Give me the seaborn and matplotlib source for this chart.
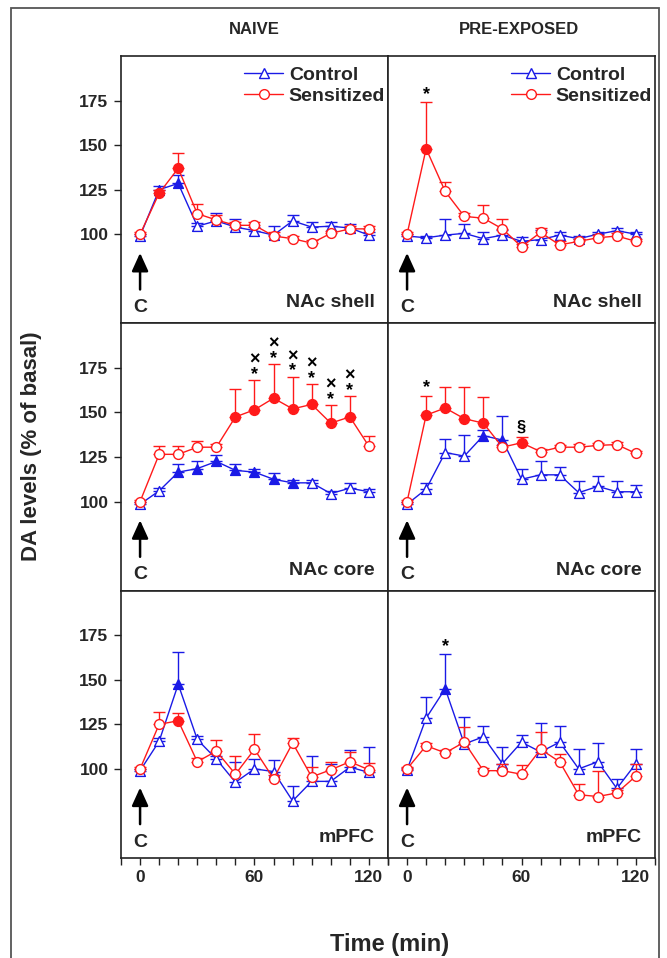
import matplotlib
matplotlib.use("Agg")
import matplotlib.pyplot as plt
from matplotlib.lines import Line2D
from matplotlib.patches import Rectangle
from matplotlib.ticker import MultipleLocator
import pandas as pd
import seaborn as sns

# --- данные, % от базального уровня ---
time_min = [0, 10, 20, 30, 40, 50, 60, 70, 80, 90, 100, 110, 120]

# NAc shell, NAIVE
shell_naive_ctrl = [99, 125, 128.5, 104.5, 107.5, 104, 102, 99.5, 107.5, 104, 104.5, 103.5, 99.5]
shell_naive_ctrl_sem = [1, 2, 4.5, 2, 4.5, 4.5, 2, 5, 3.5, 3, 2.5, 2, 1.5]
shell_naive_ctrl_sig = [10, 20]
shell_naive_sens = [100, 123, 137, 111.5, 108, 105, 105, 99, 97.5, 95, 100.5, 103, 103]
shell_naive_sens_sem = [1, 2, 8.5, 5.5, 3, 2, 2, 2, 1.5, 1.5, 1.5, 1.5, 1.5]
shell_naive_sens_sig = [10, 20]

# NAc shell, PRE-EXPOSED
shell_pre_ctrl = [99, 98, 99.5, 100.5, 97.5, 99.5, 96, 97, 99.5, 97.5, 100, 102, 100]
shell_pre_ctrl_sem = [1, 1, 9, 5, 4, 3, 2.5, 5.5, 2, 1.5, 1.5, 1.5, 1.5]
shell_pre_ctrl_sig = []
shell_pre_sens = [100, 148, 124, 110, 109, 103, 93, 101, 94, 96, 98, 99, 96]
shell_pre_sens_sem = [1, 26, 5.5, 2, 7.5, 5.5, 1.5, 2.5, 2, 1.5, 1.5, 1.5, 1.5]
shell_pre_sens_sig = [10]

# NAc core, NAIVE
core_naive_ctrl = [98.5, 106, 116.5, 118.5, 122.5, 117.5, 116.5, 112.5, 110.5, 110.5, 104.5, 107.5, 105.5]
core_naive_ctrl_sem = [1, 1.5, 4.5, 4, 3.5, 3.5, 2, 3.5, 1.5, 1.5, 1.5, 3, 1.5]
core_naive_ctrl_sig = [20, 30, 40, 50, 60, 70, 80]
core_naive_sens = [100, 126.5, 126.5, 130.5, 130.5, 147.5, 151.5, 158, 152, 154.5, 144, 147.5, 131]
core_naive_sens_sem = [1, 4.5, 4.5, 3.5, 2, 15.5, 16.5, 19, 18, 11.5, 10, 11.5, 6]
core_naive_sens_sig = [50, 60, 70, 80, 90, 100, 110]

# NAc core, PRE-EXPOSED
core_pre_ctrl = [98.5, 107, 127.5, 125.5, 137, 134.5, 112.5, 115, 115, 105, 108.5, 105.5, 105.5]
core_pre_ctrl_sem = [1, 3.5, 7.5, 12, 3, 13.5, 5.5, 7.5, 4.5, 6.5, 6, 6, 4]
core_pre_ctrl_sig = [40, 50]
core_pre_sens = [100, 148.5, 152.5, 146.5, 144, 130.5, 133, 128, 130.5, 130.5, 131.5, 132, 127]
core_pre_sens_sem = [1, 11, 11.5, 18, 14.5, 1.5, 3.5, 1.5, 1.5, 2, 1.5, 1.5, 1.5]
core_pre_sens_sig = [10, 20, 30, 40, 60]

# mPFC, NAIVE
mpfc_naive_ctrl = [99, 115.5, 147.5, 116.5, 105.5, 92.5, 100, 98.5, 82, 93, 93, 101, 98]
mpfc_naive_ctrl_sem = [1, 2, 18, 2, 2, 11.5, 5.5, 6.5, 8.5, 14, 9.5, 9.5, 14.5]
mpfc_naive_ctrl_sig = [20]
mpfc_naive_sens = [100, 125, 127, 104, 110, 97, 111, 94.5, 114.5, 95.5, 99.5, 104, 99.5]
mpfc_naive_sens_sem = [1, 7, 4.5, 2, 6, 10.5, 8.5, 2, 3, 5.5, 4.5, 5.5, 4]
mpfc_naive_sens_sig = [20]

# mPFC, PRE-EXPOSED
mpfc_pre_ctrl = [99.5, 128.5, 145, 114, 118, 103, 115, 109.5, 115, 100, 104, 89, 103]
mpfc_pre_ctrl_sem = [1, 12, 19.5, 15, 6, 9.5, 4, 16.5, 9, 11, 10.5, 5.5, 8]
mpfc_pre_ctrl_sig = [20]
mpfc_pre_sens = [100, 113, 109, 115, 99, 99, 97, 111, 104, 85.5, 84.5, 86.5, 96]
mpfc_pre_sens_sem = [1, 1.5, 1.5, 8.5, 1.5, 4, 5, 9.5, 4.5, 6, 14.5, 1.5, 6.5]
mpfc_pre_sens_sig = []

# значки значимости: (время, символ)
shell_pre_marks = [(10, '*')]
core_naive_marks = [(60, '×\n*'), (70, '×\n*'), (80, '×\n*'), (90, '×\n*'),
                    (100, '×\n*'), (110, '×\n*')]
core_pre_marks = [(10, '*'), (60, '§')]
mpfc_pre_marks = [(20, '*')]

column_titles = ['NAIVE', 'PRE-EXPOSED']
region_names = ['NAc shell', 'NAc core', 'mPFC']

# --- оформление ---
sns.set_theme(style="ticks")
plt.rcParams['font.family'] = ['Liberation Sans', 'DejaVu Sans']
plt.rcParams['font.weight'] = 'bold'

CTRL = '#1a1ae6'
SENS = '#ff1a1a'

fig, axes = plt.subplots(3, 2, figsize=(6.67, 9.58), dpi=100, sharex=True, sharey=True,
                         gridspec_kw=dict(wspace=0, hspace=0))
fig.subplots_adjust(left=121 / 667, right=655 / 667, top=1 - 56 / 958, bottom=1 - 858 / 958)


def draw_group(ax, mean, sem, sig, color, marker, zo):
    df = pd.DataFrame({'time': time_min, 'da': mean, 'sem': sem})
    df['sig'] = df['time'].isin(sig)
    ax.errorbar(df['time'], df['da'], yerr=[[0] * len(df), df['sem']], fmt='none',
                ecolor=color, elinewidth=1, capsize=4, capthick=1, zorder=zo)
    sns.lineplot(data=df, x='time', y='da', ax=ax, color=color, lw=1, zorder=zo + 0.1)
    sns.scatterplot(data=df[~df['sig']], x='time', y='da', ax=ax, marker=marker, s=50,
                    facecolor='white', edgecolor=color, linewidth=1, zorder=zo + 0.2)
    if df['sig'].any():
        sns.scatterplot(data=df[df['sig']], x='time', y='da', ax=ax, marker=marker, s=50,
                        facecolor=color, edgecolor=color, linewidth=1, zorder=zo + 0.2)
    return df


def add_marks(ax, df, marks, size=13, offset=5.0):
    tops = (df['da'] + df['sem']).values
    for t, sym in marks:
        i = time_min.index(t)
        ax.text(t, tops[i] + offset, sym, ha='center', va='bottom', fontsize=size,
                fontweight='bold', color='black', linespacing=0.8, zorder=6)


panels = [
    (shell_naive_ctrl, shell_naive_ctrl_sem, shell_naive_ctrl_sig,
     shell_naive_sens, shell_naive_sens_sem, shell_naive_sens_sig),
    (shell_pre_ctrl, shell_pre_ctrl_sem, shell_pre_ctrl_sig,
     shell_pre_sens, shell_pre_sens_sem, shell_pre_sens_sig),
    (core_naive_ctrl, core_naive_ctrl_sem, core_naive_ctrl_sig,
     core_naive_sens, core_naive_sens_sem, core_naive_sens_sig),
    (core_pre_ctrl, core_pre_ctrl_sem, core_pre_ctrl_sig,
     core_pre_sens, core_pre_sens_sem, core_pre_sens_sig),
    (mpfc_naive_ctrl, mpfc_naive_ctrl_sem, mpfc_naive_ctrl_sig,
     mpfc_naive_sens, mpfc_naive_sens_sem, mpfc_naive_sens_sig),
    (mpfc_pre_ctrl, mpfc_pre_ctrl_sem, mpfc_pre_ctrl_sig,
     mpfc_pre_sens, mpfc_pre_sens_sem, mpfc_pre_sens_sig),
]

for k, ax in enumerate(axes.flat):
    row, col = divmod(k, 2)
    c_m, c_s, c_sig, s_m, s_s, s_sig = panels[k]
    df_c = draw_group(ax, c_m, c_s, c_sig, CTRL, '^', 3)
    df_s = draw_group(ax, s_m, s_s, s_sig, SENS, 'o', 4)

    if k == 1:
        add_marks(ax, df_s, shell_pre_marks, offset=-0.5)
    if k == 2:
        add_marks(ax, df_s, core_naive_marks, size=13, offset=-1.5)
    if k == 3:
        add_marks(ax, df_s, core_pre_marks[:1], offset=-0.5)
        add_marks(ax, df_s, core_pre_marks[1:], size=12, offset=1.0)
    if k == 5:
        add_marks(ax, df_c, mpfc_pre_marks, offset=-0.5)

    # стрелка введения кокаина
    ax.annotate('', xy=(0, 89.5), xytext=(0, 69),
                arrowprops=dict(arrowstyle='-|>,head_length=1.1,head_width=0.5',
                                mutation_scale=10, color='black', lw=1.8,
                                shrinkA=0, shrinkB=0), zorder=6)
    ax.text(0, 58.8, 'C', ha='center', va='center', fontsize=14, fontweight='bold')
    ax.text(123, 59, region_names[row], ha='right', va='baseline', fontsize=14,
            fontweight='bold')

    ax.set_xlabel('')
    ax.set_ylabel('')
    for sp in ax.spines.values():
        sp.set_color('#222222')
        sp.set_linewidth(1.2)

    if row == 0:
        handles = [
            Line2D([], [], color=CTRL, lw=1, marker='^', markersize=7,
                   markerfacecolor='white', markeredgecolor=CTRL),
            Line2D([], [], color=SENS, lw=1, marker='o', markersize=7,
                   markerfacecolor='white', markeredgecolor=SENS),
        ]
        ax.legend(handles, ['Control', 'Sensitized'], loc='upper right', frameon=False,
                  bbox_to_anchor=(1 - 2.8 / 267, 1 - 10.5 / 267),
                  handlelength=2.0, handletextpad=0.3, labelspacing=0.15,
                  borderpad=0, borderaxespad=0,
                  prop={'weight': 'bold', 'size': 14})

axes[0, 0].set_xlim(-10, 130)
axes[0, 0].set_ylim(50, 200)
axes[0, 0].set_yticks([100, 125, 150, 175])
axes[0, 0].set_xticks([0, 60, 120])
axes[0, 0].xaxis.set_minor_locator(MultipleLocator(10))

for k, ax in enumerate(axes.flat):
    row, col = divmod(k, 2)
    ax.tick_params(axis='both', which='both', direction='out', length=5, width=1,
                   color='#222222', labelsize=12.5, pad=4)
    if col == 1:
        ax.tick_params(axis='y', which='both', left=False, labelleft=False)
    if row < 2:
        ax.tick_params(axis='x', which='both', bottom=False, labelbottom=False)
    for lab in ax.get_xticklabels() + ax.get_yticklabels():
        lab.set_fontweight('bold')

# заголовки колонок и подписи осей
fig.text(254.5 / 667, 1 - 30 / 958, column_titles[0], ha='center', va='center',
         fontsize=12, fontweight='bold')
fig.text(519 / 667, 1 - 30 / 958, column_titles[1], ha='center', va='center',
         fontsize=12, fontweight='bold')
fig.text(32 / 667, 1 - 446 / 958, 'DA levels (% of basal)', rotation=90, ha='center',
         va='center', fontsize=16, fontweight='bold')
fig.text(390 / 667, 1 - 945 / 958, 'Time (min)', ha='center', va='center',
         fontsize=17, fontweight='bold')

# внешняя рамка рисунка
fig.patches.append(Rectangle((11 / 667, -0.01), (659 - 11) / 667, 1.01 - 8 / 958,
                             transform=fig.transFigure, fill=False,
                             edgecolor='#555555', lw=1.3))

fig.savefig('out.png', dpi=100)
